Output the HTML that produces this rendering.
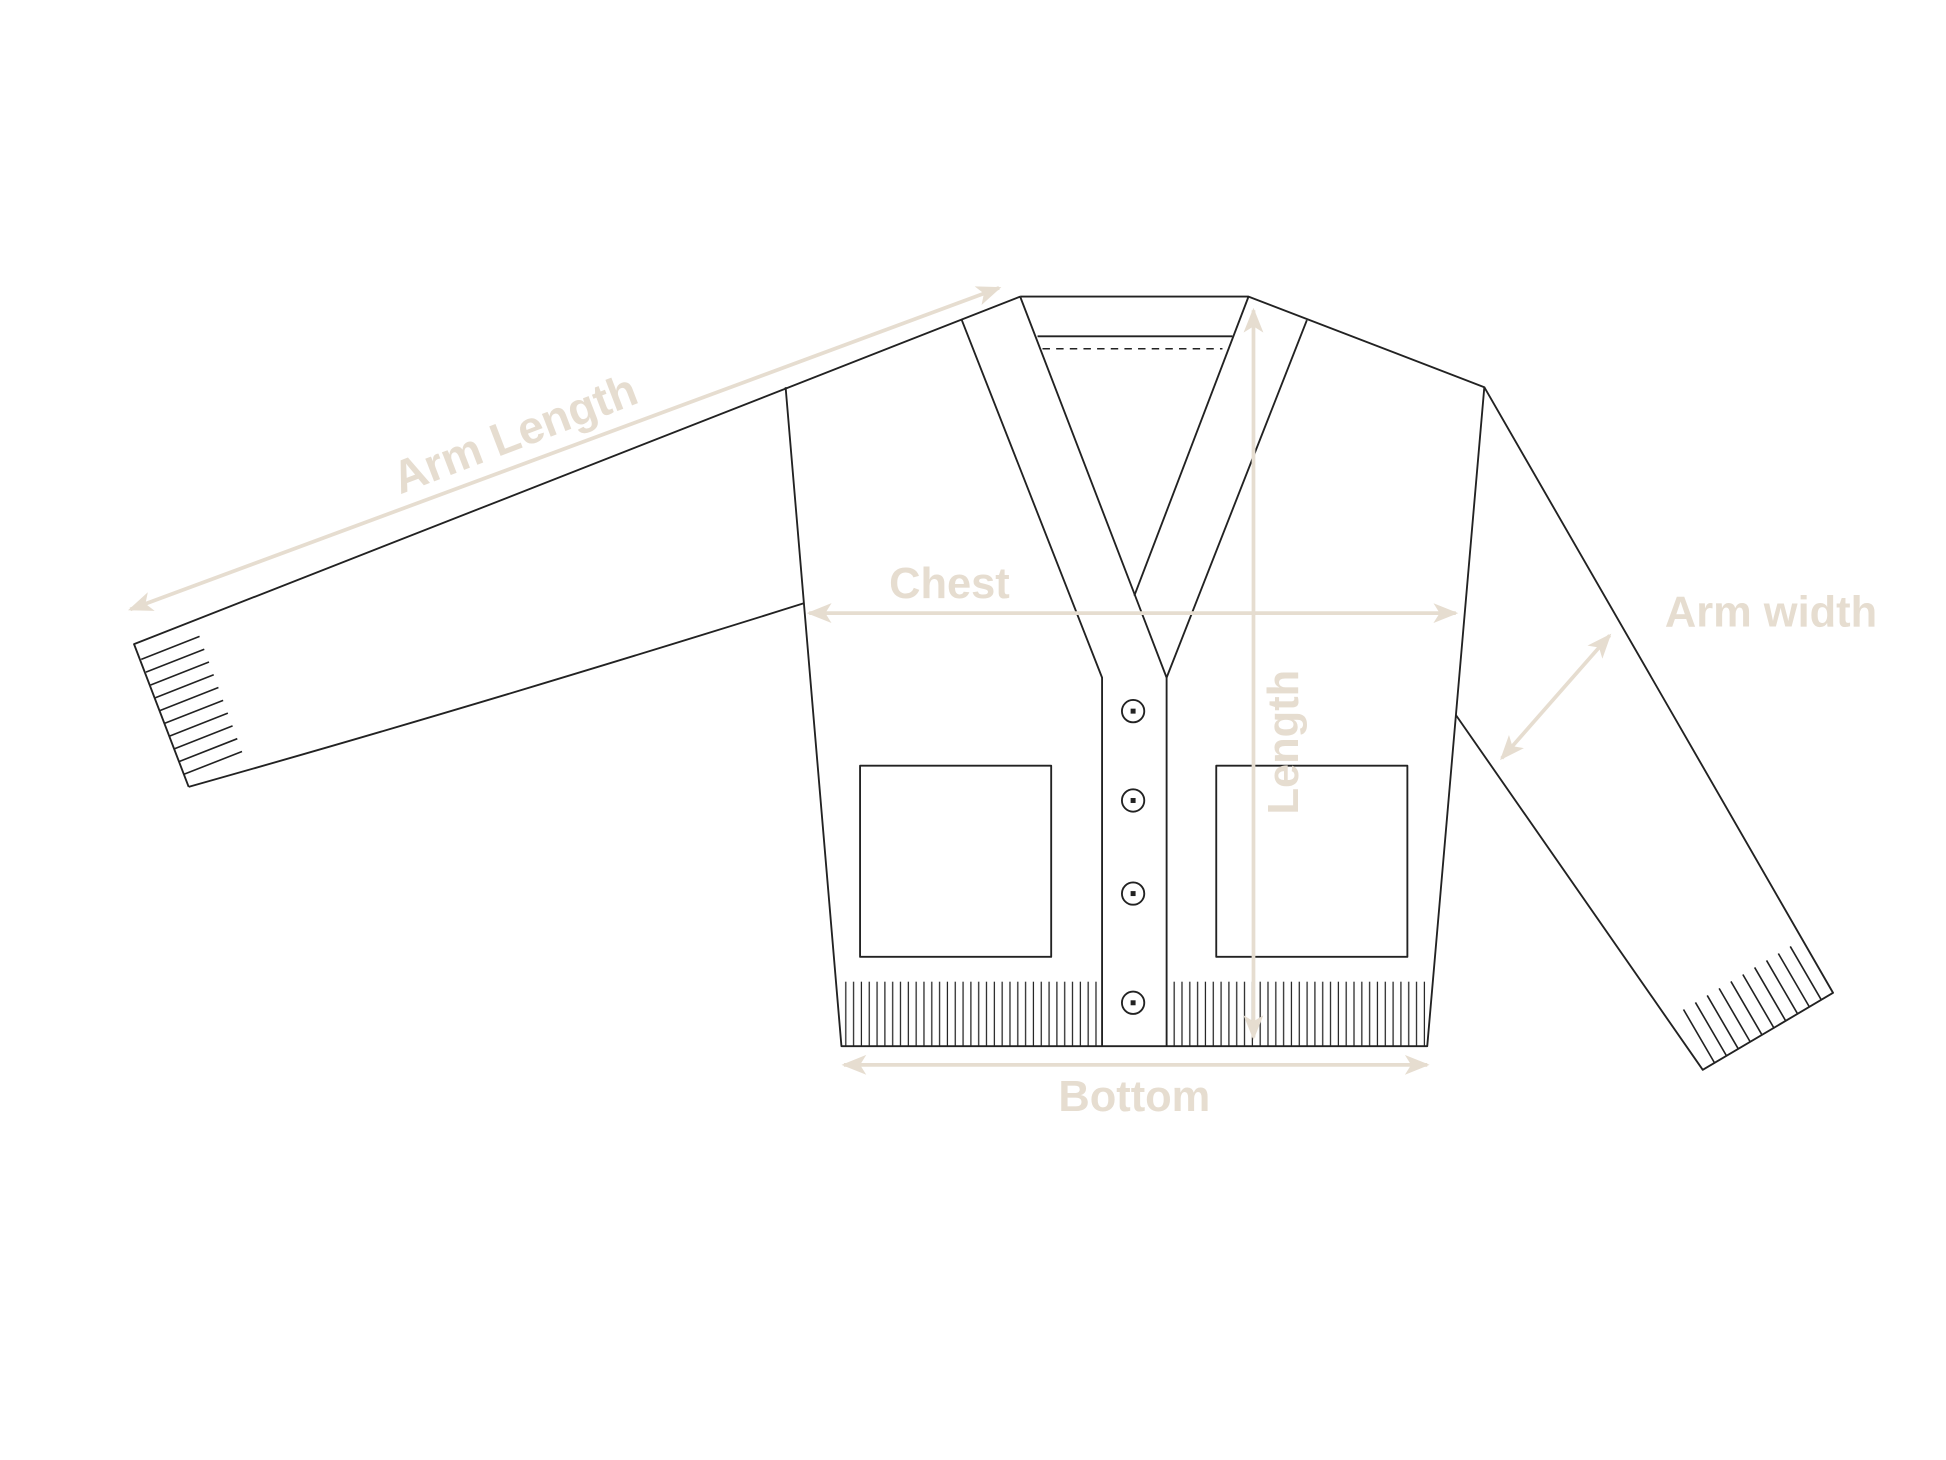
<!DOCTYPE html>
<html><head><meta charset="utf-8"><style>html,body{margin:0;padding:0;background:#fff}svg{display:block}</style></head>
<body>
<svg width="1946" height="1460" viewBox="0 0 1568 1176.4" xmlns="http://www.w3.org/2000/svg">
<defs>
<pattern id="rib" x="680" y="0" width="6.3" height="10" patternUnits="userSpaceOnUse">
<line x1="1.5" y1="0" x2="1.5" y2="10" stroke="#222" stroke-width="1"/>
</pattern>
<marker id="ah" viewBox="0 0 20 20" refX="18" refY="10" markerWidth="20" markerHeight="20" markerUnits="userSpaceOnUse" orient="auto-start-reverse">
<path d="M0,2 L20,10 L0,18 L5,10 Z" fill="#e6ddd0"/>
</marker>
</defs>
<g fill="none" stroke="#222" stroke-width="1.5" stroke-linejoin="round">
<path d="M822,239 L108,519 L152,634"/>
<path d="M152,634 Q380,570 648,486"/>
<path d="M633,312 L678,843 L1150,843 L1196,312 L1006,239 L822,239"/>
<path d="M1196,312 L1477,800 L1372,862 L1173,576"/>
<path d="M775,258 L888,546 L888,843"/>
<path d="M822,239 L940,546 L940,843"/>
<path d="M1053,258 L940,546"/>
<path d="M1006,239 L914,480"/>
<line x1="836" y1="271" x2="993" y2="271"/>
<line x1="840" y1="281" x2="985" y2="281" stroke-dasharray="6,5" stroke-width="1.2"/>
<rect x="693" y="617" width="154" height="154"/>
<rect x="980" y="617" width="154" height="154"/>
<circle cx="913" cy="573" r="9"/><circle cx="913" cy="645" r="9"/><circle cx="913" cy="720" r="9"/><circle cx="913" cy="808" r="9"/>
<path stroke-width="1.3" d="M113.8,531.3 l47,-18.5 M117.6,541.6 l47,-18.5 M121.4,551.9 l47,-18.5 M125.2,562.2 l47,-18.5 M129,572.5 l47,-18.5 M132.8,582.8 l47,-18.5 M136.6,593.1 l47,-18.5 M140.4,603.4 l47,-18.5 M144.2,613.7 l47,-18.5 M148,624 l47,-18.5"/>
<path stroke-width="1.3" d="M1381.5,856.4 l-25,-43 M1391.1,850.7 l-25,-43 M1400.6,845.1 l-25,-43 M1410.2,839.4 l-25,-43 M1419.7,833.8 l-25,-43 M1429.3,828.2 l-25,-43 M1438.8,822.5 l-25,-43 M1448.4,816.9 l-25,-43 M1457.9,811.3 l-25,-43 M1467.5,805.6 l-25,-43"/>
</g>
<g fill="#222">
<rect x="911" y="571" width="4" height="4"/><rect x="911" y="643" width="4" height="4"/><rect x="911" y="718" width="4" height="4"/><rect x="911" y="806" width="4" height="4"/>
</g>
<rect x="680" y="791" width="206" height="52" fill="url(#rib)"/>
<rect x="944" y="791" width="205" height="52" fill="url(#rib)"/>
<g stroke="#e6ddd0" stroke-width="3" fill="none" marker-start="url(#ah)" marker-end="url(#ah)">
<line x1="105" y1="491" x2="805" y2="232"/>
<line x1="652" y1="494" x2="1173" y2="494"/>
<line x1="1010" y1="250" x2="1010" y2="836"/>
<line x1="680" y1="858" x2="1150" y2="858"/>
<line x1="1210" y1="611" x2="1297" y2="512"/>
</g>
<g fill="#e6ddd0" font-family="'Liberation Sans', sans-serif" font-weight="bold" font-size="35" text-anchor="middle">
<text x="415" y="362" font-size="37" transform="rotate(-21 415 350)">Arm Length</text>
<text x="765" y="482">Chest</text>
<text x="0" y="0" transform="translate(1046 598) rotate(-90)">Length</text>
<text x="1427" y="505">Arm width</text>
<text x="914" y="895">Bottom</text>
</g>
</svg>
</body></html>
